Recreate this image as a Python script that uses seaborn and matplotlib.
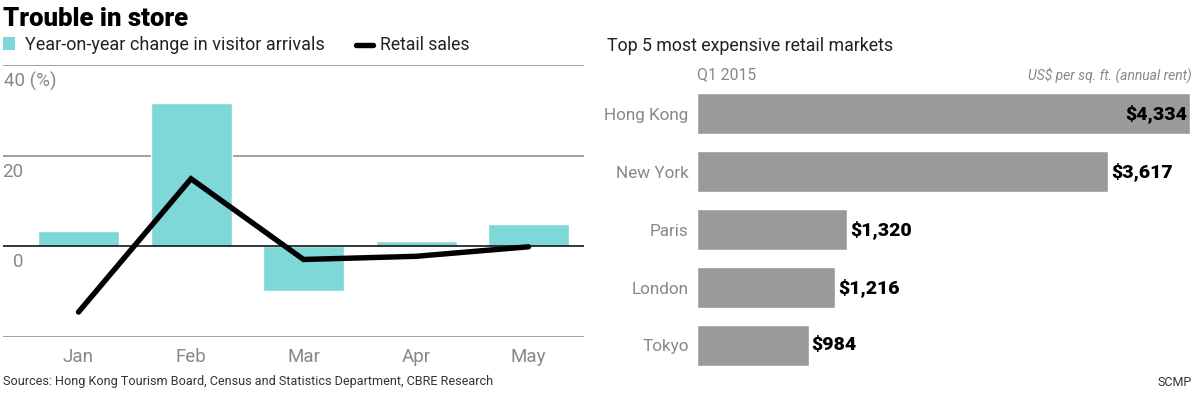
import numpy as np
import seaborn as sns
import matplotlib
matplotlib.use('Agg')
import matplotlib.pyplot as plt
from matplotlib import transforms
from matplotlib.patches import Rectangle
from matplotlib.lines import Line2D

months = ['Jan', 'Feb', 'Mar', 'Apr', 'May']
visitors = [3.3, 31.6, -9.9, 1.1, 5.0]
retail = [-14.5, 14.9, -2.9, -2.2, -0.1]

cities = ['Hong Kong', 'New York', 'Paris', 'London', 'Tokyo']
rents = [4334, 3617, 1320, 1216, 984]
rent_labels = ['$4,334', '$3,617', '$1,320', '$1,216', '$984']

TEAL = '#7fd8d8'
BARGRAY = '#9a9a9a'
TXTGRAY = '#888888'
GRID = '#a0a0a0'

sns.set_style('white')
plt.rcParams['font.family'] = ['Roboto', 'DejaVu Sans']

W, H = 1200, 393
fig = plt.figure(figsize=(12, 3.93), dpi=100)

def px(x, y):
    return x / W, 1 - y / H

# left chart: visitor arrivals + retail sales
ax = fig.add_axes([3 / W, (H - 337) / H, 581 / W, 272 / H])
sns.barplot(x=months, y=visitors, color=TEAL, width=0.72, saturation=1, ax=ax, zorder=2)
sns.lineplot(x=np.arange(len(months)), y=retail, color='black', lw=3.9, ax=ax, zorder=4,
             solid_capstyle='round', solid_joinstyle='miter')
ax.set_xlim(-0.671, 4.493)
ax.set_ylim(-20, 40)
for v in [20, 40, -20]:
    ax.axhline(v, color=GRID, lw=1.4, zorder=1)
ax.axhline(0, color='black', lw=1.1, zorder=3)
for s in ax.spines.values():
    s.set_visible(False)
ax.set_yticks([])
ax.set_xlabel('')
ax.set_ylabel('')
ax.tick_params(axis='x', length=0, pad=8, labelsize=13.5, labelcolor=TXTGRAY)

ytr = transforms.offset_copy(ax.get_yaxis_transform(), fig=fig, x=0, y=-7, units='dots')
ax.text(0.002, 40, '40 (%)', transform=ytr, ha='left', va='top', fontsize=13.5, color=TXTGRAY)
ax.text(0.035, 20, '20', transform=ytr, ha='right', va='top', fontsize=13.5, color=TXTGRAY)
ax.text(0.036, 0, '0', transform=ytr, ha='right', va='top', fontsize=13.5, color=TXTGRAY)

# right chart: retail rents
ax2 = fig.add_axes([697 / W, (H - 380) / H, 495 / W, 300 / H])
sns.barplot(x=rents, y=cities, orient='h', color=BARGRAY, width=0.72, saturation=1, ax=ax2)
ax2.set_xlim(0, 4352)
ax2.set_ylim(4.595, -0.578)
for s in ax2.spines.values():
    s.set_visible(False)
ax2.set_xticks([])
ax2.set_xlabel('')
ax2.set_ylabel('')
ax2.tick_params(axis='y', length=0, pad=6, labelsize=12.3, labelcolor=TXTGRAY)
for i, (v, lab) in enumerate(zip(rents, rent_labels)):
    if i == 0:
        ax2.annotate(lab, (v, i), xytext=(-2, 0), textcoords='offset points', ha='right',
                     va='center', fontsize=14, fontweight='black', color='black')
    else:
        ax2.annotate(lab, (v, i), xytext=(2, 0), textcoords='offset points', ha='left',
                     va='center', fontsize=14, fontweight='black', color='black')

# header / legend / footer
fig.text(*px(3, 19), 'Trouble in store', fontsize=18.5, fontweight='black', va='center', ha='left', color='black')
fig.patches.append(Rectangle(px(3, 50), 12 / W, 13 / H, transform=fig.transFigure,
                             facecolor=TEAL, edgecolor='none'))
fig.text(*px(25, 45), 'Year-on-year change in visitor arrivals', fontsize=13, va='center', color='#222222')
fig.lines.append(Line2D([356 / W, 373 / W], [1 - 45 / H, 1 - 45 / H], transform=fig.transFigure,
                        color='black', lw=3.9, solid_capstyle='round'))
fig.text(*px(380, 45), 'Retail sales', fontsize=12.7, va='center', color='#222222')

fig.text(*px(607, 46), 'Top 5 most expensive retail markets', fontsize=12.8, va='center', color='#222222')
fig.text(*px(697, 75), 'Q1 2015', fontsize=11.3, va='center', color=TXTGRAY)
fig.text(*px(1192, 75), 'US$ per sq. ft. (annual rent)', fontsize=10, style='italic', va='center',
         ha='right', color=TXTGRAY)

fig.text(*px(3, 382), 'Sources: Hong Kong Tourism Board, Census and Statistics Department, CBRE Research',
         fontsize=9.1, va='center', color='#333333')
fig.text(*px(1192, 382), 'SCMP', fontsize=9, va='center', ha='right', color='#333333')

fig.savefig('out.png', dpi=100)
